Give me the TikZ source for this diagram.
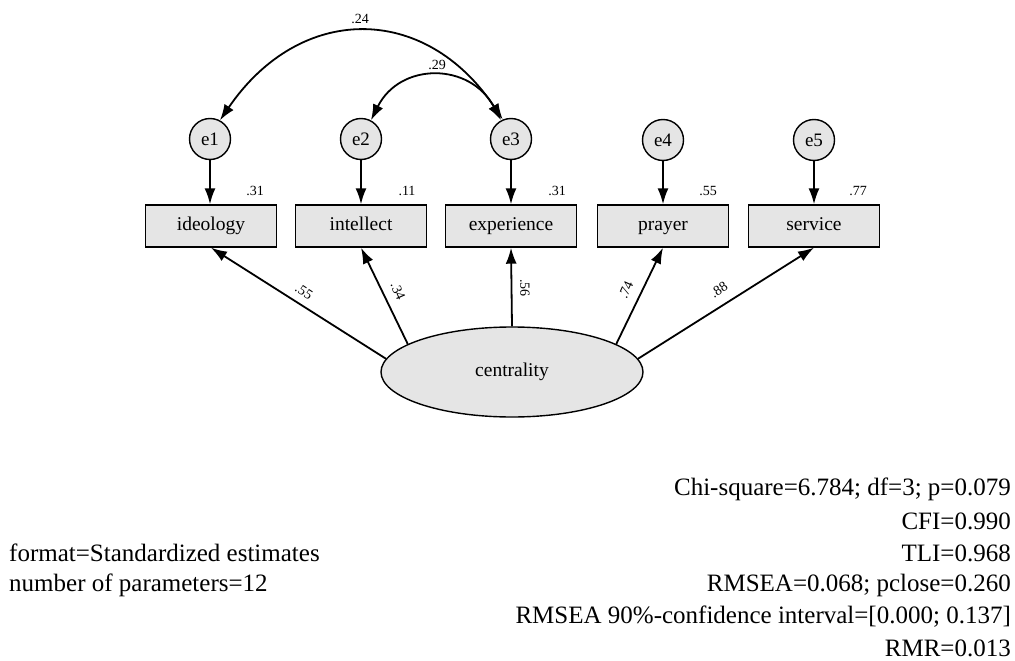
\documentclass[tikz,border=0pt]{standalone}
\usepackage{fontspec}
\setmainfont{Liberation Serif}
\usetikzlibrary{arrows.meta,shapes.geometric}
\begin{document}
\begin{tikzpicture}[x=1pt,y=-1pt,
  >={Latex[length=16pt,width=11pt]},
  conn/.style={draw=black,line width=1.8pt,->},
  obs/.style={draw=black,line width=1.4pt,fill=black!10,minimum width=131pt,minimum height=42pt,inner sep=0pt,text height=13pt,text depth=4pt,font=\fontsize{19.5}{21}\selectfont},
  err/.style={circle,draw=black,line width=1.4pt,fill=black!10,minimum size=41pt,inner sep=0pt,font=\fontsize{19}{21}\selectfont},
  lat/.style={ellipse,draw=black,line width=1.4pt,fill=black!10,minimum width=262pt,minimum height=90pt,inner sep=0pt,font=\fontsize{19.5}{21}\selectfont},
  est/.style={font=\fontsize{14}{16}\selectfont,inner sep=0pt},
  fit/.style={font=\fontsize{25}{27}\selectfont,inner sep=0pt}]
\useasboundingbox (0,0) rectangle (1015,661);
% observed variables
\node[obs] (ideology) at (211,226) {ideology};
\node[obs] (intellect) at (361,226) {intellect};
\node[obs] (experience) at (511,226) {experience};
\node[obs] (prayer) at (663,226) {prayer};
\node[obs] (service) at (814,226) {service};
% errors
\node[err] (e1) at (210,139) {e1};
\node[err] (e2) at (361,139) {e2};
\node[err] (e3) at (511,139) {e3};
\node[err] (e4) at (663,140) {e4};
\node[err] (e5) at (814,140) {e5};
% latent
\node[lat] (c) at (512,372) {centrality};
% error paths
\draw[conn] (e1) -- (ideology.north -| e1);
\draw[conn] (e2) -- (intellect.north -| e2);
\draw[conn] (e3) -- (experience.north -| e3);
\draw[conn] (e4) -- (prayer.north -| e4);
\draw[conn] (e5) -- (service.north -| e5);
% loadings
\draw[conn] (c.174) -- (ideology.south);
\draw[conn] (c.165) -- (intellect.south);
\draw[conn] (c.north) -- (experience.south);
\draw[conn] (c.15) -- (prayer.south);
\draw[conn] (c.6) -- (service.south);
% covariances
\draw[conn,<->] (e3.113) .. controls (425,3) and (300,3) .. (e1.62);
\draw[conn,<->] (e3.118) .. controls (470,62) and (400,62) .. (e2.62);
% squared multiple correlations
\node[est] (r1) at (255,191) {.31};
\node[est] (r2) at (407,191) {.11};
\node[est] (r3) at (557,191) {.31};
\node[est] (r4) at (708,191) {.55};
\node[est] (r5) at (858,191) {.77};
% loading labels
\node[est,rotate=-33] (l1) at (304,292) {.55};
\node[est,rotate=-66] (l2) at (398,291) {.34};
\node[est,rotate=-90] (l3) at (525,288) {.56};
\node[est,rotate=66] (l4) at (626,290) {.74};
\node[est,rotate=33] (l5) at (719,290) {.88};
% covariance labels
\node[est] (k1) at (360,19) {.24};
\node[est] (k2) at (437,65) {.29};
% fit statistics
\node[fit,anchor=west] (f1) at (9,553) {format=Standardized estimates};
\node[fit,anchor=west] (f2) at (9,585) {number of parameters=12};
\node[fit,anchor=east] (s1) at (1011,489) {Chi-square=6.784; df=3; p=0.079};
\node[fit,anchor=east] (s2) at (1011,521) {CFI=0.990};
\node[fit,anchor=east] (s3) at (1011,553) {TLI=0.968};
\node[fit,anchor=east] (s4) at (1011,585) {RMSEA=0.068; pclose=0.260};
\node[fit,anchor=east] (s5) at (1011,617) {RMSEA 90\%-confidence interval=[0.000; 0.137]};
\node[fit,anchor=east] (s6) at (1011,648) {RMR=0.013};
\end{tikzpicture}
\end{document}
